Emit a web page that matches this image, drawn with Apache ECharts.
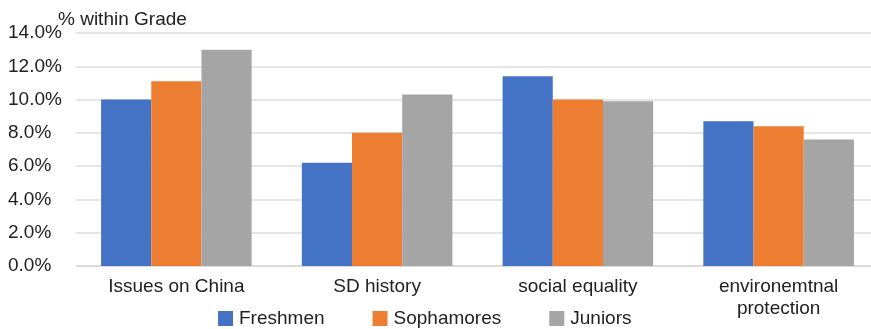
<!DOCTYPE html>
<html>
<head>
<meta charset="utf-8">
<script src="https://cdn.jsdelivr.net/npm/echarts@6/dist/echarts.min.js"></script>
<style>
  html, body { margin: 0; padding: 0; background: #fff; }
  #chart { width: 871px; height: 329px; }
</style>
</head>
<body>
<div id="chart"></div>
<script>
// Share of students (% within grade) choosing each topic
const categories = ['Issues on China', 'SD history', 'social equality', 'environemtnal\nprotection'];
const freshmen   = [10.0, 6.2, 11.4, 8.7];
const sophamores = [11.1, 8.0, 10.0, 8.4];
const juniors    = [13.0, 10.3, 9.9, 7.6];
const seriesNames = ['Freshmen', 'Sophamores', 'Juniors'];
const yTicks = { min: 0, max: 14, interval: 2 };
const yTitle = '% within Grade';

const FONT = 'Liberation Sans, Arial, Helvetica, sans-serif';
const TEXT = '#222';

const chart = echarts.init(document.getElementById('chart'), null, { renderer: 'canvas' });

chart.setOption({
  animation: false,
  color: ['#4472C4', '#ED7D31', '#A5A5A5'],
  textStyle: { fontFamily: FONT },
  title: {
    text: yTitle,
    left: 58,
    top: 10,
    padding: 0,
    textStyle: { fontFamily: FONT, fontSize: 19, fontWeight: 'normal', color: TEXT }
  },
  grid: { left: 76, right: -8, top: 33, bottom: 63, containLabel: false, outerBoundsMode: 'none' },
  legend: {
    data: seriesNames,
    left: 213,
    top: 304,
    itemWidth: 15,
    itemHeight: 15,
    itemGap: 48,
    icon: 'rect',
    textStyle: { fontFamily: FONT, fontSize: 19, color: TEXT, padding: [0, 0, 0, 1] }
  },
  xAxis: {
    type: 'category',
    data: categories,
    axisLine: { lineStyle: { color: '#d6d6d6', width: 1.5 } },
    axisTick: { show: false },
    axisLabel: {
      fontFamily: FONT, fontSize: 19, color: TEXT, margin: 10, lineHeight: 22, interval: 0
    }
  },
  yAxis: {
    type: 'value',
    min: yTicks.min,
    max: yTicks.max,
    interval: yTicks.interval,
    axisLine: { show: false },
    axisTick: { show: false },
    splitLine: { lineStyle: { color: '#dcdcdc', width: 1.5 } },
    axisLabel: {
      fontFamily: FONT, fontSize: 19, color: TEXT, align: 'left', margin: 68,
      formatter: v => v.toFixed(1) + '%'
    }
  },
  series: [
    { name: seriesNames[0], type: 'bar', data: freshmen, barGap: '0%', barCategoryGap: '25%' },
    { name: seriesNames[1], type: 'bar', data: sophamores, barGap: '0%', barCategoryGap: '25%' },
    { name: seriesNames[2], type: 'bar', data: juniors, barGap: '0%', barCategoryGap: '25%' }
  ]
});
</script>
</body>
</html>
